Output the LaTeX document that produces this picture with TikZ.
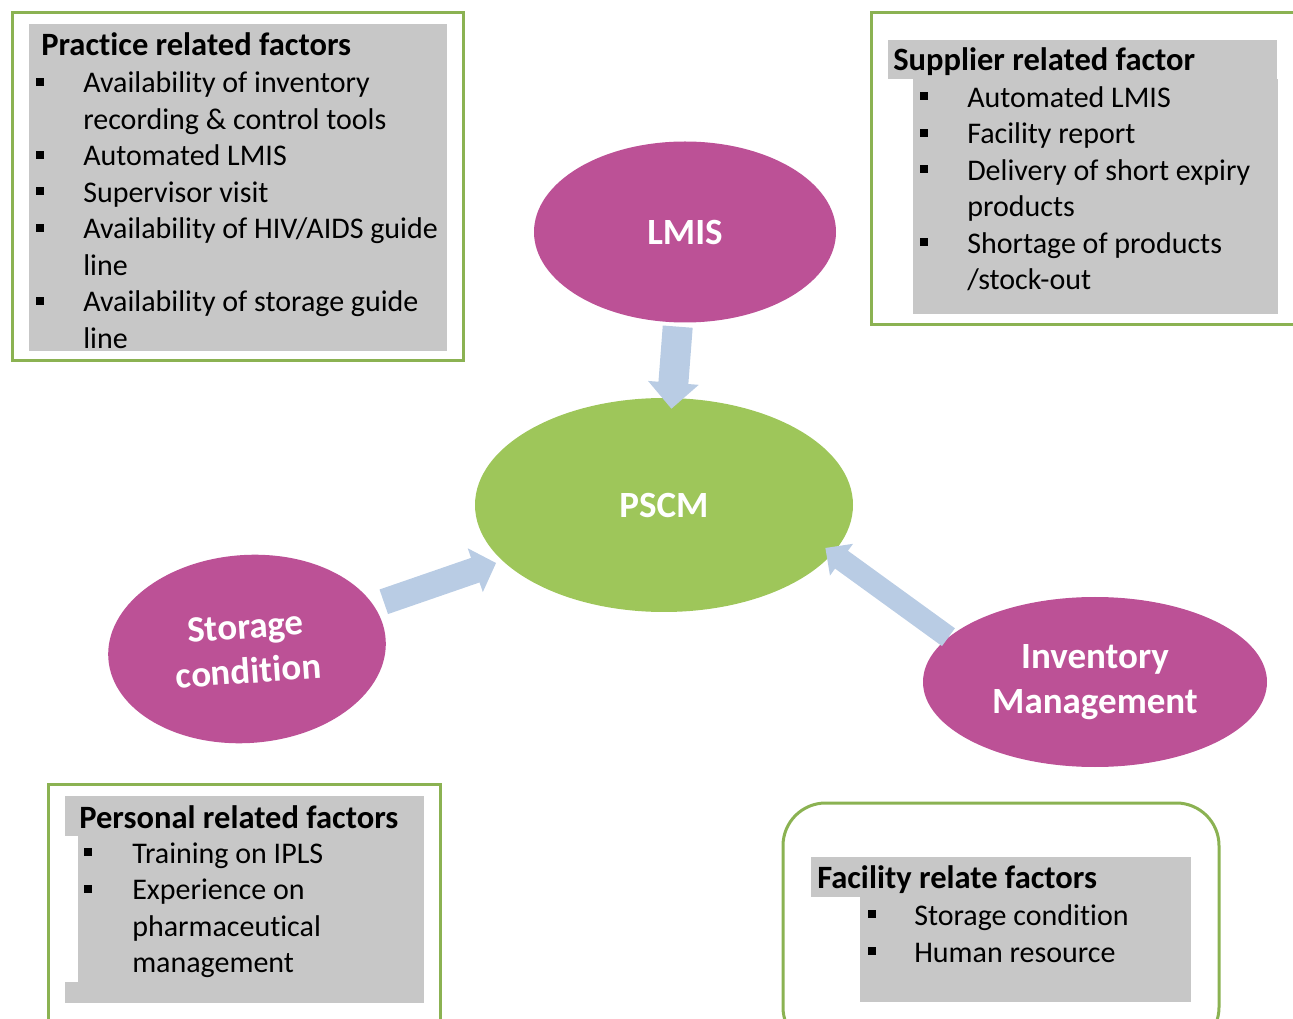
\documentclass[tikz,border=0pt]{standalone}
\usepackage{fontspec}
\setmainfont{Carlito}[Ligatures=NoCommon]
\usetikzlibrary{shapes.geometric,arrows.meta}
\definecolor{berry}{RGB}{188,81,150}
\definecolor{pscmgreen}{RGB}{158,198,90}
\definecolor{framegreen}{RGB}{139,178,82}
\definecolor{arrowblue}{RGB}{185,204,228}
\definecolor{boxgray}{RGB}{199,199,199}
\newcommand\bul[2]{\fill (#1,#2-15) rectangle ++(8,8);}
\begin{document}
\begin{tikzpicture}[x=0.75pt,y=-0.75pt,
  frame/.style={draw=framegreen,line width=2.25pt},
  headtxt/.style={anchor=base west,inner sep=0,font=\fontsize{24.4pt}{29pt}\selectfont\bfseries},
  itemtxt/.style={anchor=base west,inner sep=0,font=\fontsize{22.5pt}{27pt}\selectfont},
  oval/.style={ellipse,fill=berry,text=white,inner sep=0,align=center,
    font=\fontsize{27.75pt}{33.5pt}\selectfont\bfseries},
  blockarrow/.style={draw=arrowblue,fill=arrowblue}
]
\useasboundingbox (0,0) rectangle (1293,1019);
\clip (0,0) rectangle (1293,1019);

% ---------- Practice related factors ----------
\draw[frame] (12,13) rectangle (463,361);
\fill[boxgray] (29,24) rectangle (447,351);
\node[headtxt] (pr0) at (41,56) {Practice related factors};
\node[itemtxt] (pr1) at (83,93) {Availability of inventory};
\node[itemtxt] (pr2) at (83,129.5) {recording \& control tools};
\node[itemtxt] (pr3) at (83,166) {Automated LMIS};
\node[itemtxt] (pr4) at (83,202.5) {Supervisor visit};
\node[itemtxt] (pr5) at (83,239) {Availability of HIV/AIDS guide};
\node[itemtxt] (pr6) at (83,275.5) {line};
\node[itemtxt] (pr7) at (83,312) {Availability of storage guide};
\node[itemtxt] (pr8) at (83,348.5) {line};
\bul{36}{93} \bul{36}{166} \bul{36}{202.5} \bul{36}{239} \bul{36}{312}

% ---------- Supplier related factor ----------
\draw[frame] (871,13) rectangle (1310,325);
\fill[boxgray] (888,40) rectangle (1277,79);
\fill[boxgray] (913,79) rectangle (1278,314);
\node[headtxt] (su0) at (893,71) {Supplier related factor};
\node[itemtxt] (su1) at (967,107.5) {Automated LMIS};
\node[itemtxt] (su2) at (967,144) {Facility report};
\node[itemtxt] (su3) at (967,180.5) {Delivery of short expiry};
\node[itemtxt] (su4) at (967,217) {products};
\node[itemtxt] (su5) at (967,253.5) {Shortage of products};
\node[itemtxt] (su6) at (967,290) {/stock-out};
\bul{920}{107.5} \bul{920}{144} \bul{920}{180.5} \bul{920}{253.5}

% ---------- Personal related factors ----------
\draw[frame] (48,784) rectangle (440,1040);
\fill[boxgray] (65,796) rectangle (424,836);
\fill[boxgray] (78,836) rectangle (424,1003);
\fill[boxgray] (65,982) rectangle (78,1003);
\node[headtxt] (pe0) at (79,828) {Personal related factors};
\node[itemtxt] (pe1) at (132,863) {Training on IPLS};
\node[itemtxt] (pe2) at (132,899.5) {Experience on};
\node[itemtxt] (pe3) at (132,936) {pharmaceutical};
\node[itemtxt] (pe4) at (132,972.5) {management};
\bul{84}{863} \bul{84}{899.5}

% ---------- Facility relate factors ----------
\draw[frame,rounded corners=32pt] (783,803) rectangle (1219,1050);
\fill[boxgray] (811,857) rectangle (1191,897);
\fill[boxgray] (860,897) rectangle (1191,1002);
\node[headtxt] (fa0) at (817,888) {Facility relate factors};
\node[itemtxt] (fa1) at (914,925) {Storage condition};
\node[itemtxt] (fa2) at (914,962) {Human resource};
\bul{868}{925} \bul{868}{962}

% ---------- Ellipses ----------
\node[oval,minimum width=226.5pt,minimum height=135.75pt] (lmis) at (685,232) {LMIS};
\node[oval,fill=pscmgreen,minimum width=283.5pt,minimum height=160.5pt] (pscm) at (664,505) {PSCM};
\node[oval,minimum width=208.5pt,minimum height=141pt,rotate=4] (stor) at (247,649) {Storage\\condition};
\node[oval,minimum width=258pt,minimum height=127.5pt] (inv) at (1095,682) {Inventory\\Management};

% ---------- Block arrows ----------
\draw[arrowblue,line width=22.5pt,-{Triangle[length=19.5pt,width=37pt]},
  shorten <=3pt,shorten >=-8.25pt] (lmis) -- (pscm);
\draw[arrowblue,line width=19.5pt,-{Triangle[length=16.5pt,width=33.75pt]},
  shorten <=8pt,shorten >=5pt] (stor) -- (pscm);
\draw[arrowblue,line width=16.5pt,-{Triangle[length=15pt,width=28.5pt]},
  shorten >=-7pt] (inv.163) -- (pscm.-16);
\end{tikzpicture}
\end{document}
